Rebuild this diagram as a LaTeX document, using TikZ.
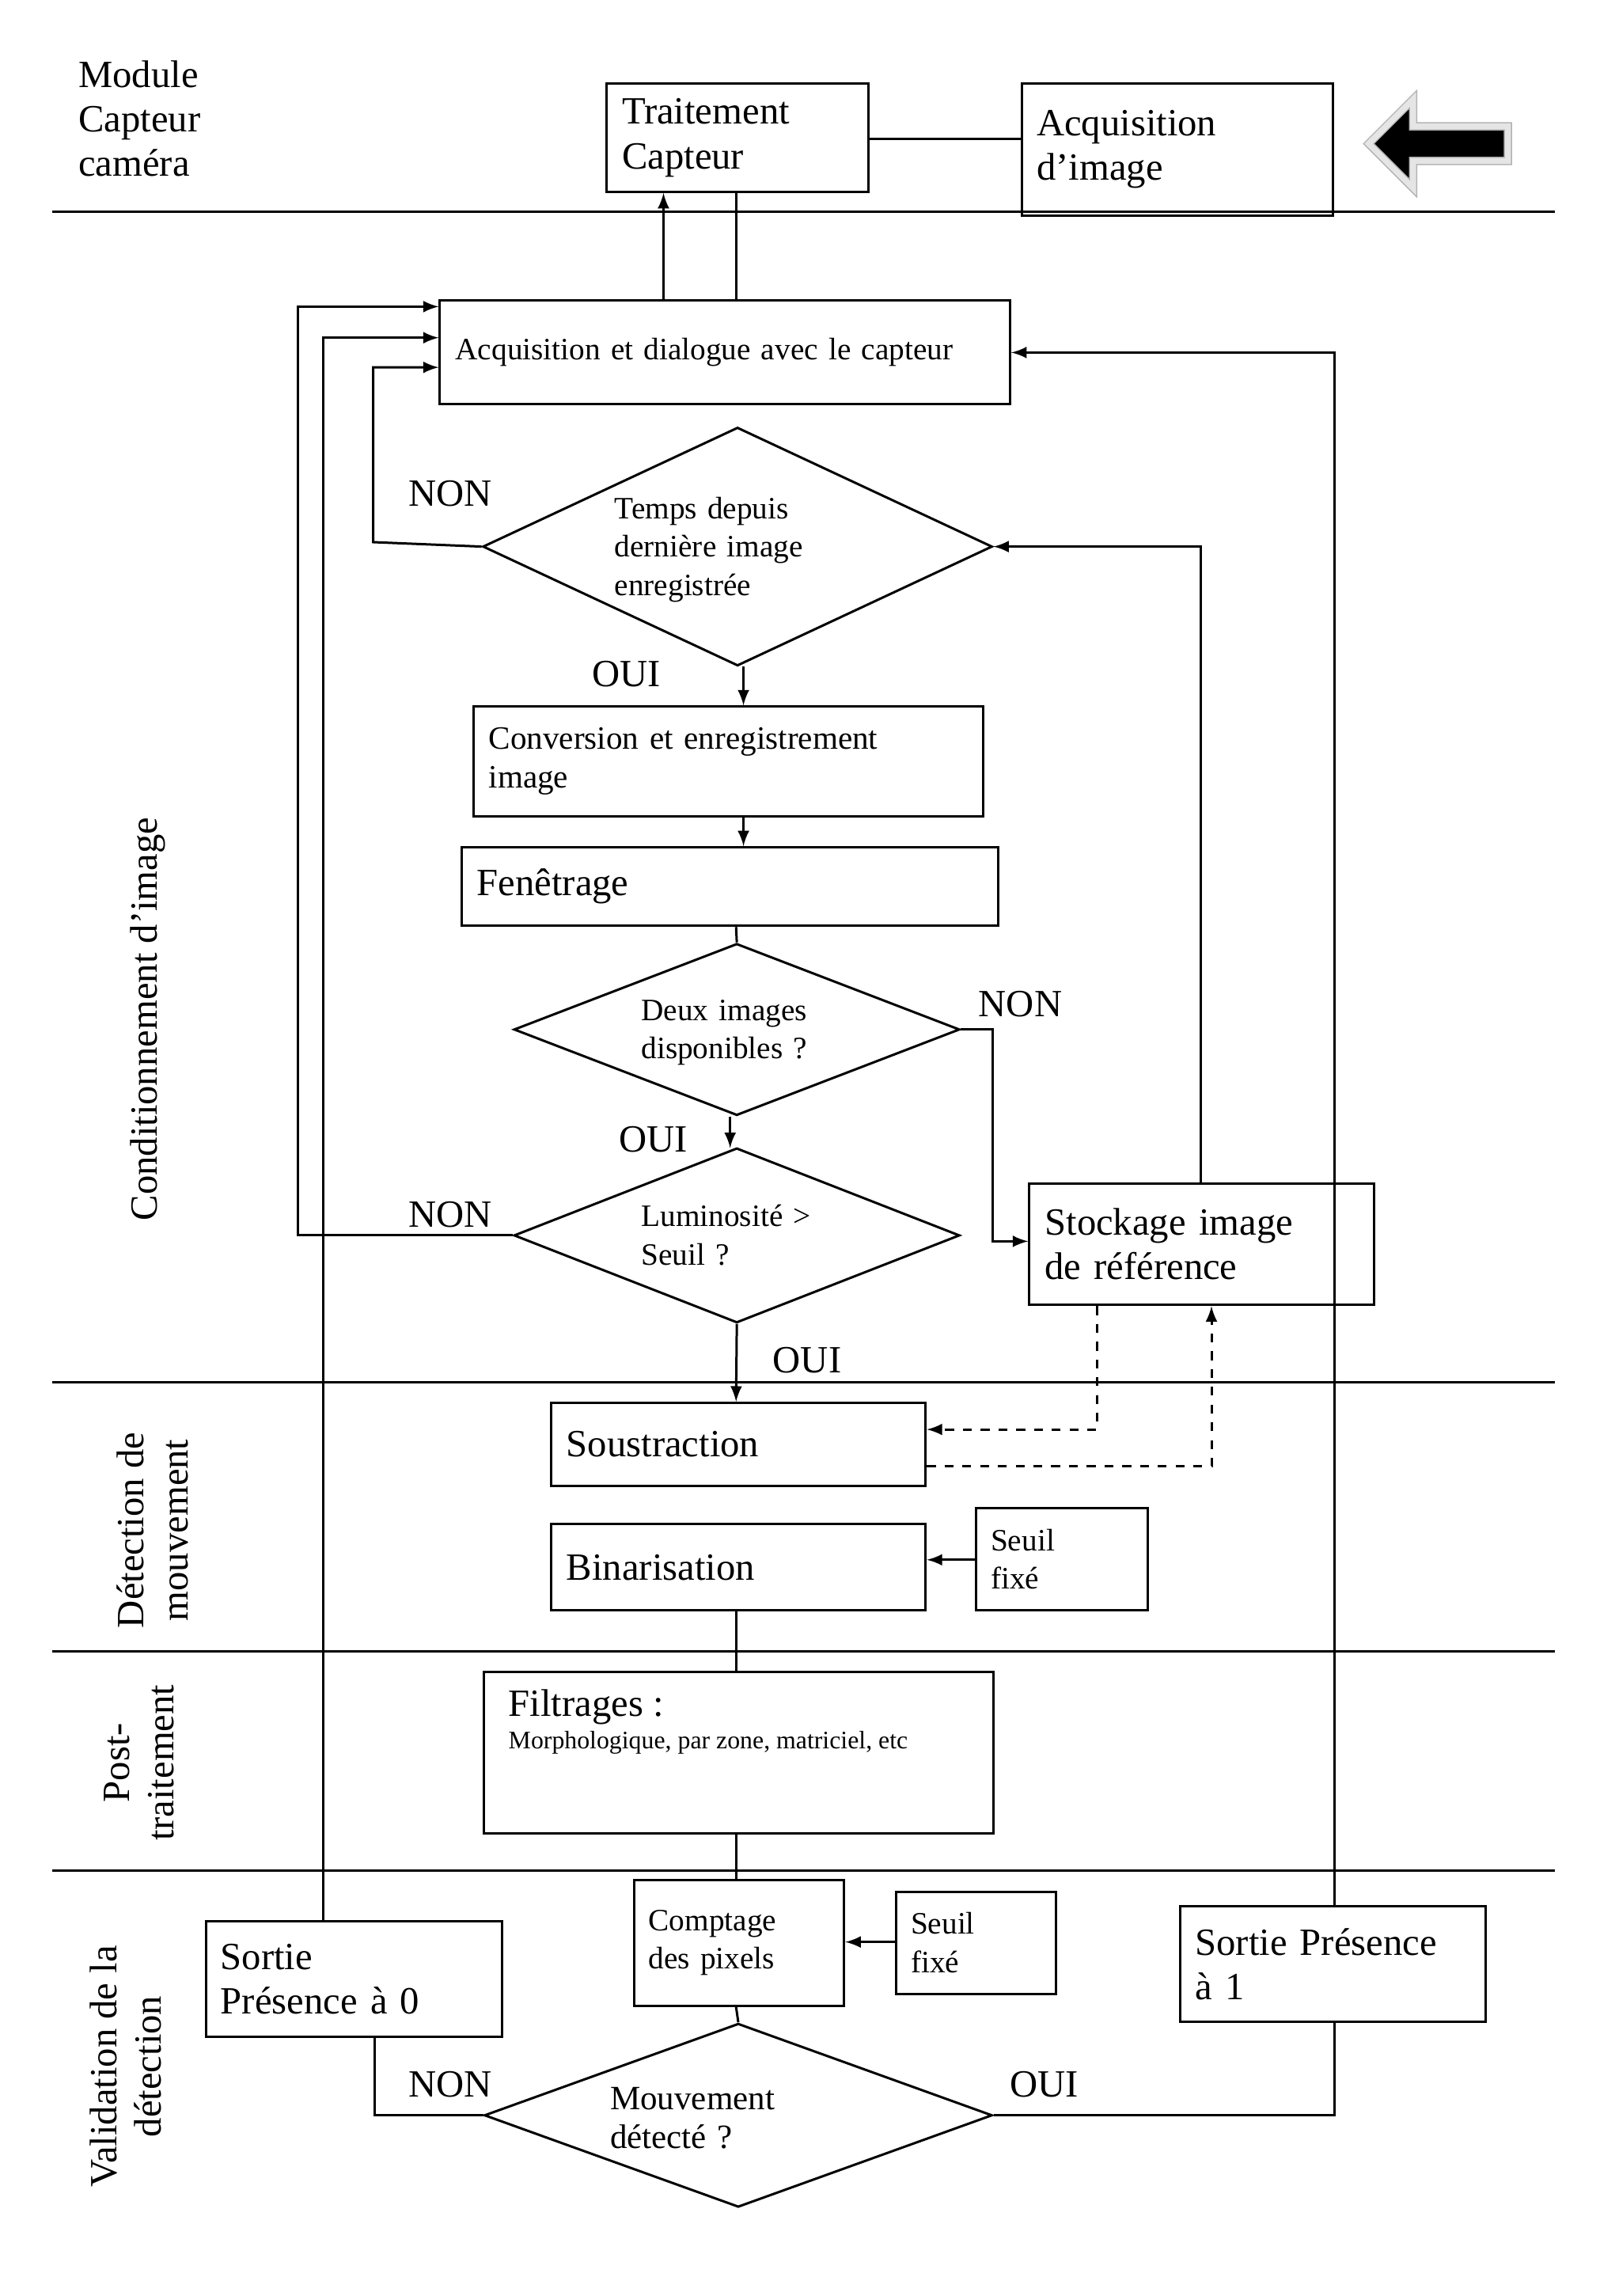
\documentclass[tikz,border=0pt]{standalone}
\usepackage{fontspec}
\setmainfont{Liberation Serif}
\usetikzlibrary{shapes.geometric, shapes.arrows, arrows, positioning, calc}
\tikzset{
  box/.style={draw, thick, rectangle, inner sep=4pt, font=\fontsize{13}{15}\selectfont, align=left},
  sbox/.style={draw, thick, rectangle, inner sep=4pt, font=\fontsize{10.5}{13}\selectfont, align=left},
  dia/.style={draw, thick, diamond, inner sep=0pt, font=\fontsize{10.5}{13}\selectfont, align=left},
  lbl/.style={font=\fontsize{13}{15}\selectfont},
  arr/.style={thick, -latex},
  sep/.style={thick}
}
\begin{document}
\begin{tikzpicture}[x=0.5pt, y=-0.5pt]
\useasboundingbox (0,0) rectangle (1080,1550);

% bandes
\foreach \yy in {143,933,1115,1263}
  \draw[sep] (35,\yy) -- (1050,\yy);
\node[lbl, align=left, anchor=north west] at (46,34) {Module\\Capteur\\caméra};
\node[lbl, rotate=90] at (100,688) {Conditionnement d'image};
\node[lbl, rotate=90, align=center] at (103,1033) {Détection de\\mouvement};
\node[lbl, rotate=90, align=center] at (94,1190) {Post-\\traitement};
\node[lbl, rotate=90, align=center] at (85,1395) {Validation de la\\détection};

% module capteur
\node[box, minimum width=88.5pt, minimum height=36.5pt, text width=78pt] (trait) at (498,93) {Traitement\\Capteur};
\node[box, minimum width=105pt, minimum height=44.5pt, text width=95pt] (acqimg) at (795,101) {Acquisition\\d'image};
\draw[thick] (trait.east |- 0,94) -- (acqimg.west |- 0,94);
\node[single arrow, shape border rotate=180, fill=black, draw=gray!60, double=gray!20, double distance=2pt,
  minimum height=47pt, minimum width=30pt, single arrow head extend=5pt, inner sep=3pt] (fleche) at (977,97) {};

% conditionnement
\node[sbox, minimum width=192.5pt, minimum height=35pt, text width=182pt] (acq) at (489.5,238) {Acquisition et dialogue avec le capteur\\[10pt]};
\draw[arr] (acq.north -| 448,0) -- (trait.south -| 448,0);
\draw[thick] (trait.south -| 497,0) -- (acq.north -| 497,0);

\node[dia, minimum width=172pt, minimum height=80.5pt] (temps) at (498,369) {};
\node[sbox, draw=none, text width=80pt] (ttemps) at (495,371) {Temps depuis\\dernière image\\enregistrée};
\draw[arr] (temps.west) -- (252,366) -- (252,248) -- (acq.west |- 0,248);
\node[lbl] (non1) at (304,333) {NON};
\node[lbl] (oui1) at (423,455) {OUI};

\node[box, font=\fontsize{11}{13}\selectfont, minimum width=172pt, minimum height=37pt, text width=162pt] (conv) at (492,514) {Conversion et enregistrement\\image};
\draw[arr] (502,450) -- (conv.north -| 502,0);
\node[box, minimum width=181pt, minimum height=26.5pt, text width=171pt] (fen) at (493,598.5) {Fenêtrage};
\draw[arr] (conv.south -| 502,0) -- (fen.north -| 502,0);

\node[dia, minimum width=150.5pt, minimum height=58pt] (deux) at (497.5,695) {};
\node[sbox, draw=none, text width=70pt] (tdeux) at (503,697) {Deux images\\disponibles ?};
\draw[thick] (fen.south -| 497,0) -- (deux.north);
\node[lbl] (oui2) at (441,769) {OUI};

\node[dia, minimum width=150.5pt, minimum height=59pt] (lum) at (497.5,834) {};
\node[sbox, draw=none, text width=70pt] (tlum) at (503,834) {Luminosité >\\Seuil ?};
\draw[arr] (deux.south -| 493,0) -- (493,775);
\node[lbl] (non2) at (304,820) {NON};
\draw[arr] (lum.west) -- (201,834) -- (201,207) -- (acq.west |- 0,207);

\node[box, minimum width=116.5pt, minimum height=41pt, text width=106pt] (stock) at (811.5,840) {Stockage image\\de référence};
\draw[arr] (deux.east) -- (670,695) -- (670,838) -- (stock.west |- 0,838);
\node[lbl] (non3) at (689,678) {NON};
\draw[arr] (stock.north -| 811,0) -- (811,369) -- (temps.east);

% detection
\node[box, minimum width=126.5pt, minimum height=28pt, text width=116pt] (sous) at (498.5,975) {Soustraction};
\draw[arr] (lum.south) -- (sous.north -| 497,0);
\node[lbl] (oui3) at (545,918) {OUI};
\draw[arr, dashed] (stock.south -| 741,0) -- (741,965) -- (sous.east |- 0,965);
\draw[arr, dashed] (sous.east |- 0,990) -- (818,990) -- (stock.south -| 818,0);

\node[box, minimum width=126.5pt, minimum height=29pt, text width=116pt] (bin) at (498.5,1058) {Binarisation};
\node[sbox, minimum width=58pt, minimum height=34.5pt, text width=48pt] (seuil1) at (717,1052.5) {Seuil\\fixé};
\draw[arr] (seuil1.west |- 0,1053) -- (bin.east |- 0,1053);

% post-traitement
\node[box, minimum width=172pt, minimum height=54.5pt, text width=162pt, anchor=north west, inner sep=0pt] (filt) at (326,1128) {};
\node[anchor=north west, align=left, inner sep=0pt] (tfilt) at (343,1140) {{\fontsize{13}{15}\selectfont Filtrages :}\\[-1pt]{\fontsize{8.5}{10}\selectfont Morphologique, par zone, matriciel, etc}};
\draw[thick] (bin.south -| 497,0) -- (filt.north -| 497,0);

% validation
\node[sbox, minimum width=71pt, minimum height=42.5pt, text width=61pt] (compt) at (499,1311.5) {Comptage\\des pixels};
\draw[thick] (filt.south -| 497,0) -- (compt.north -| 497,0);
\node[sbox, minimum width=54pt, minimum height=34.5pt, text width=44pt] (seuil2) at (659,1311.5) {Seuil\\fixé};
\draw[arr] (seuil2.west |- 0,1311) -- (compt.east |- 0,1311);

\node[dia, minimum width=171.5pt, minimum height=62pt] (mouv) at (498.5,1428) {};
\node[sbox, draw=none, text width=70pt] (tmouv) at (482,1430) {\fontsize{11.5}{14}\selectfont Mouvement\\détecté ?};
\draw[thick] (compt.south -| 497,0) -- (mouv.north);

\node[box, minimum width=100pt, minimum height=39pt, text width=90pt] (sort0) at (239,1336) {Sortie\\Présence à 0};
\node[box, minimum width=103pt, minimum height=39pt, text width=93pt] (sort1) at (900,1326) {Sortie Présence\\à 1};
\draw[thick] (mouv.west) -- (253,1428) -- (sort0.south -| 253,0);
\node[lbl] (non4) at (304,1407) {NON};
\draw[thick] (mouv.east) -- (901,1428) -- (sort1.south -| 901,0);
\node[lbl] (oui4) at (705,1407) {OUI};
\draw[arr] (sort0.north -| 218,0) -- (218,228) -- (acq.west |- 0,228);
\draw[arr] (sort1.north -| 901,0) -- (901,238) -- (acq.east |- 0,238);
\end{tikzpicture}
\end{document}
